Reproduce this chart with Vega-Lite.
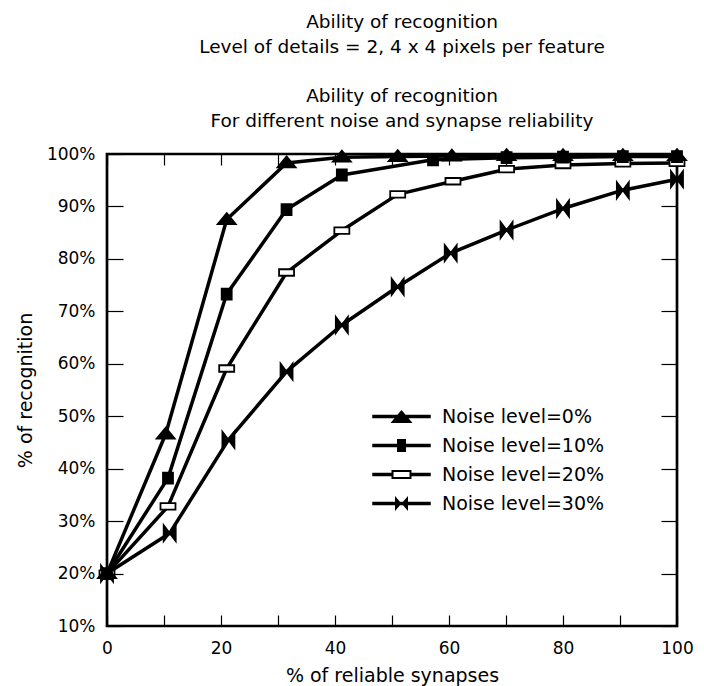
{
  "$schema": "https://vega.github.io/schema/vega-lite/v6.json",
  "autosize": "none",
  "width": 570,
  "height": 472,
  "padding": {"left": 107, "top": 154, "right": 27, "bottom": 60},
  "background": "white",
  "title": {
    "text": ["Ability of recognition", "Level of details = 2, 4 x 4 pixels per feature"],
    "subtitle": ["Ability of recognition", "For different noise and synapse reliability"],
    "font": "DejaVu Sans",
    "fontSize": 18.5,
    "fontWeight": "normal",
    "color": "black",
    "lineHeight": 25,
    "subtitleFont": "DejaVu Sans",
    "subtitleFontSize": 18.5,
    "subtitleFontWeight": "normal",
    "subtitleColor": "black",
    "subtitleLineHeight": 25,
    "subtitlePadding": 30,
    "offset": 20,
    "dx": 10,
    "dy": 5,
    "anchor": "middle"
  },
  "data": {
    "values": [
      {"x": 0, "y": 20, "noise": "Noise level=30%"},
      {"x": 11, "y": 27.7, "noise": "Noise level=30%"},
      {"x": 21.3, "y": 45.5, "noise": "Noise level=30%"},
      {"x": 31.5, "y": 58.5, "noise": "Noise level=30%"},
      {"x": 41.2, "y": 67.4, "noise": "Noise level=30%"},
      {"x": 51, "y": 74.7, "noise": "Noise level=30%"},
      {"x": 60.3, "y": 81.1, "noise": "Noise level=30%"},
      {"x": 70.1, "y": 85.5, "noise": "Noise level=30%"},
      {"x": 80, "y": 89.6, "noise": "Noise level=30%"},
      {"x": 90.5, "y": 93.1, "noise": "Noise level=30%"},
      {"x": 100, "y": 95.2, "noise": "Noise level=30%"},
      {"x": 0, "y": 20, "noise": "Noise level=20%"},
      {"x": 10.7, "y": 32.8, "noise": "Noise level=20%"},
      {"x": 21, "y": 59.1, "noise": "Noise level=20%"},
      {"x": 31.5, "y": 77.4, "noise": "Noise level=20%"},
      {"x": 41.2, "y": 85.4, "noise": "Noise level=20%"},
      {"x": 51, "y": 92.3, "noise": "Noise level=20%"},
      {"x": 60.7, "y": 94.8, "noise": "Noise level=20%"},
      {"x": 70.1, "y": 97.1, "noise": "Noise level=20%"},
      {"x": 80, "y": 97.9, "noise": "Noise level=20%"},
      {"x": 90.5, "y": 98.2, "noise": "Noise level=20%"},
      {"x": 100, "y": 98.3, "noise": "Noise level=20%"},
      {"x": 0, "y": 20, "noise": "Noise level=10%"},
      {"x": 10.7, "y": 38.2, "noise": "Noise level=10%"},
      {"x": 21, "y": 73.3, "noise": "Noise level=10%"},
      {"x": 31.5, "y": 89.4, "noise": "Noise level=10%"},
      {"x": 41.2, "y": 96.0, "noise": "Noise level=10%"},
      {"x": 57.2, "y": 98.9, "noise": "Noise level=10%"},
      {"x": 70.1, "y": 99.3, "noise": "Noise level=10%"},
      {"x": 80, "y": 99.4, "noise": "Noise level=10%"},
      {"x": 90.5, "y": 99.5, "noise": "Noise level=10%"},
      {"x": 100, "y": 99.5, "noise": "Noise level=10%"},
      {"x": 0, "y": 20, "noise": "Noise level=0%"},
      {"x": 10.3, "y": 46.6, "noise": "Noise level=0%"},
      {"x": 21, "y": 87.5, "noise": "Noise level=0%"},
      {"x": 31.5, "y": 98.3, "noise": "Noise level=0%"},
      {"x": 41.2, "y": 99.4, "noise": "Noise level=0%"},
      {"x": 51, "y": 99.5, "noise": "Noise level=0%"},
      {"x": 60.5, "y": 99.6, "noise": "Noise level=0%"},
      {"x": 70.1, "y": 99.7, "noise": "Noise level=0%"},
      {"x": 80, "y": 99.7, "noise": "Noise level=0%"},
      {"x": 90.5, "y": 99.7, "noise": "Noise level=0%"},
      {"x": 100, "y": 99.7, "noise": "Noise level=0%"}
    ]
  },
  "layer": [
    {
      "mark": {"type": "line", "stroke": "black", "strokeWidth": 3.5, "strokeJoin": "round"},
      "encoding": {
        "x": {"field": "x", "type": "quantitative", "scale": {"domain": [0, 100], "nice": false},
          "axis": {"orient": "top", "labels": false, "title": null, "domain": false, "grid": false, "values": [0,10,20,30,40,50,60,70,80,90,100], "tickSize": -11, "tickColor": "black", "tickWidth": 1.2}},
        "y": {"field": "y", "type": "quantitative", "scale": {"domain": [10, 100], "nice": false, "zero": false},
          "axis": {"orient": "right", "labels": false, "title": null, "domain": false, "grid": false, "values": [10,20,30,40,50,60,70,80,90,100], "tickSize": -16, "tickColor": "black", "tickWidth": 1.2}},
        "detail": {"field": "noise", "type": "nominal"}
      }
    },
    {
      "mark": {"type": "point", "filled": true, "stroke": "black", "strokeWidth": 1.8, "opacity": 1, "size": 100},
      "encoding": {
        "x": {"field": "x", "type": "quantitative",
          "axis": {"orient": "bottom", "title": "% of reliable synapses", "domain": false, "grid": false, "values": [0,10,20,30,40,50,60,70,80,90,100], "labelExpr": "datum.value % 20 === 0 ? datum.label : ''", "labelFlush": false, "tickSize": -11, "tickColor": "black", "tickWidth": 1.2, "labelPadding": 25, "labelFont": "DejaVu Sans", "labelFontSize": 17, "labelColor": "black", "titleFont": "DejaVu Sans", "titleFontSize": 19, "titleFontWeight": "normal", "titleColor": "black", "titlePadding": 10}},
        "y": {"field": "y", "type": "quantitative",
          "axis": {"orient": "left", "title": "% of recognition", "domain": false, "grid": false, "values": [10,20,30,40,50,60,70,80,90,100], "labelExpr": "datum.value + '%'", "labelFlush": false, "tickSize": -16, "tickColor": "black", "tickWidth": 1.2, "labelPadding": 28, "labelFont": "DejaVu Sans", "labelFontSize": 17, "labelColor": "black", "titleFont": "DejaVu Sans", "titleFontSize": 19, "titleFontWeight": "normal", "titleColor": "black", "titlePadding": 11}},
        "shape": {"field": "noise", "type": "nominal", "legend": null,
          "scale": {"domain": ["Noise level=0%", "Noise level=10%", "Noise level=20%", "Noise level=30%"],
            "range": ["M0,-1.3L1.8,0.9L-1.8,0.9Z", "M-1,-1.1H1V1.1H-1Z", "M-1.5,-0.65H1.5V0.65H-1.5Z", "M-1.2,-1.6L0,0L-1.2,1.6Z M1.2,-1.6L1.2,1.6L0,0Z"]}},
        "fill": {"field": "noise", "type": "nominal", "legend": null,
          "scale": {"domain": ["Noise level=0%", "Noise level=10%", "Noise level=20%", "Noise level=30%"],
            "range": ["black", "black", "white", "black"]}}
      }
    },
    {
      "transform": [{"filter": "false"}],
      "mark": {"type": "point", "filled": true, "fill": "black", "stroke": "black", "strokeWidth": 0.5, "size": 100, "opacity": 1},
      "encoding": {
        "x": {"field": "x", "type": "quantitative", "axis": null},
        "y": {"field": "y", "type": "quantitative", "axis": null},
        "shape": {"field": "noise", "type": "nominal",
          "scale": {"domain": ["Noise level=0%", "Noise level=10%", "Noise level=20%", "Noise level=30%"],
            "range": [
              "M-5.85,-0.35H5.85V0.35H-5.85Z M0,-1.3L2.2,1.3L-2.2,1.3Z",
              "M-5.85,-0.35H5.85V0.35H-5.85Z M-0.9,-1.3H0.9V1.3H-0.9Z",
              "M-5.85,-0.35H-2V0.35H-5.85Z M2,-0.35H5.85V0.35H2Z M-2,-0.9H2V0.9H-2Z M-1.6,-0.5V0.5H1.6V-0.5Z",
              "M-5.85,-0.35H5.85V0.35H-5.85Z M-1.3,-1.5L0,0L-1.3,1.5Z M1.3,-1.5L1.3,1.5L0,0Z"
            ]},
          "legend": {"title": null, "orient": "none", "legendX": 285, "legendY": 253, "padding": 0, "labelOffset": 31, "rowPadding": 9, "symbolSize": 100, "symbolStrokeWidth": 0.5, "symbolOpacity": 1, "symbolFillColor": "black", "symbolStrokeColor": "black", "labelFont": "DejaVu Sans", "labelFontSize": 19, "labelColor": "black", "labelLimit": 300}
        }
      }
    }
  ],
  "resolve": {
    "axis": {"x": "independent", "y": "independent"},
    "scale": {"shape": "independent", "fill": "independent"}
  },
  "config": {
    "view": {"stroke": "black", "strokeWidth": 2.7},
    "axis": {"ticks": true}
  }
}
